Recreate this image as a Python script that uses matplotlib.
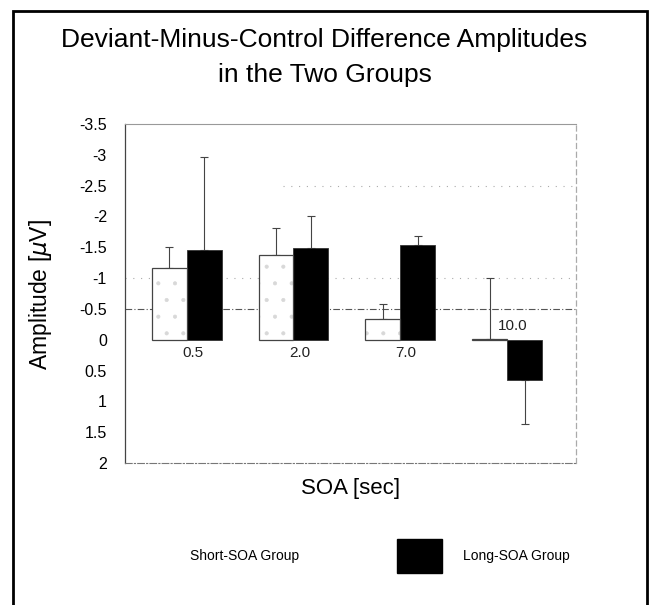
import matplotlib
matplotlib.use("Agg")
import matplotlib.pyplot as plt
from matplotlib.patches import Rectangle
import numpy as np

plt.rcParams['font.family'] = ['Liberation Sans', 'DejaVu Sans']
plt.rcParams['hatch.linewidth'] = 0.5

soa_labels = ["0.5", "2.0", "7.0", "10.0"]
short_means = [-1.16, -1.37, -0.34, -0.02]
short_err = [0.34, 0.44, 0.24, 0.98]
long_means = [-1.46, -1.49, -1.54, 0.65]
long_err = [1.51, 0.51, 0.15, 0.71]
y_ticks = [-3.5, -3, -2.5, -2, -1.5, -1, -0.5, 0, 0.5, 1, 1.5, 2]


def one_sided(means, errs):
    # error bars only go away from zero
    lower = [e if m < 0 else 0 for m, e in zip(means, errs)]
    upper = [e if m >= 0 else 0 for m, e in zip(means, errs)]
    return [lower, upper]


fig = plt.figure(figsize=(6.49, 6.05), dpi=100)
ax = fig.add_axes([0.1926, 0.2347, 0.6949, 0.5603])

x = np.arange(len(soa_labels))
w = 0.327

# gridlines (faint, broken like the scan)
ax.axhline(-2.5, color="#aaaaaa", lw=0.8, ls=(0, (1, 6)), zorder=0, xmin=0.35)
ax.axhline(-1.0, color="#aaaaaa", lw=0.8, ls=(0, (1, 6)), zorder=0)
ax.axhline(-0.5, color="#555555", lw=0.8, ls=(0, (6, 2, 1, 2)), zorder=0)

# short group: stippled white bars
ax.bar(x - w / 2, short_means, w, color="white", edgecolor="#d8d8d8",
       hatch=".", linewidth=0, zorder=2)
ax.bar(x - w / 2, short_means, w, fill=False, edgecolor="#444444",
       linewidth=0.9, zorder=3)
ax.errorbar(x - w / 2, short_means, yerr=one_sided(short_means, short_err),
            fmt="none", ecolor="#444444", elinewidth=0.8, capsize=3, capthick=0.8, zorder=1)

# long group: black bars
ax.bar(x + w / 2, long_means, w, color="black", edgecolor="#333333",
       linewidth=0.6, zorder=2)
ax.errorbar(x + w / 2, long_means, yerr=one_sided(long_means, long_err),
            fmt="none", ecolor="#444444", elinewidth=0.8, capsize=3, capthick=0.8, zorder=1)

# category labels sit at the zero line
for i, lab in enumerate(soa_labels):
    if long_means[i] > 0:
        ax.text(i + 0.055, -0.22, lab, ha="center", va="center", fontsize=11, color="#222222")
    else:
        ax.text(i + 0.055, 0.22, lab, ha="center", va="center", fontsize=11, color="#222222")

ax.set_xlim(-0.577, 3.645)
ax.set_ylim(2, -3.5)
ax.set_yticks(y_ticks)
ax.set_yticklabels(["%g" % t for t in y_ticks], fontsize=11.5)
ax.set_xticks([])
ax.tick_params(axis="y", length=0, pad=13)

ax.spines["left"].set_color("#444444")
ax.spines["left"].set_linewidth(0.9)
ax.spines["bottom"].set_color("#777777")
ax.spines["bottom"].set_linestyle((0, (6, 2, 1, 2)))
ax.spines["bottom"].set_linewidth(0.8)
ax.spines["top"].set_color("#999999")
ax.spines["top"].set_linestyle((0, (3, 1)))
ax.spines["top"].set_linewidth(0.8)
ax.spines["right"].set_color("#aaaaaa")
ax.spines["right"].set_linestyle((0, (4, 3)))
ax.spines["right"].set_linewidth(0.9)

fig.text(0.062, 0.514, "Amplitude [$\\mu$V]", rotation=90, ha="center", va="center", fontsize=16.5)
fig.text(0.54, 0.193, "SOA [sec]", ha="center", va="center", fontsize=16)

fig.text(0.5, 0.934, "Deviant-Minus-Control Difference Amplitudes", ha="center", va="center", fontsize=19)
fig.text(0.5, 0.876, "in the Two Groups", ha="center", va="center", fontsize=19)

# legend
fig.text(0.2928, 1 - 556 / 605, "Short-SOA Group", ha="left", va="center", fontsize=10)
fig.patches.append(Rectangle((397 / 649, 1 - 573 / 605), 45 / 649, 34 / 605,
                             transform=fig.transFigure, facecolor="black", edgecolor="black"))
fig.text(463 / 649, 1 - 556 / 605, "Long-SOA Group", ha="left", va="center", fontsize=10)

# outer frame
fig.patches.append(Rectangle((12.7 / 649, -0.05), (647 - 12.7) / 649, 0.05 + 1 - 11 / 605,
                             transform=fig.transFigure, fill=False, edgecolor="black",
                             linewidth=2, clip_on=False))

plt.savefig("out.png", dpi=100)
